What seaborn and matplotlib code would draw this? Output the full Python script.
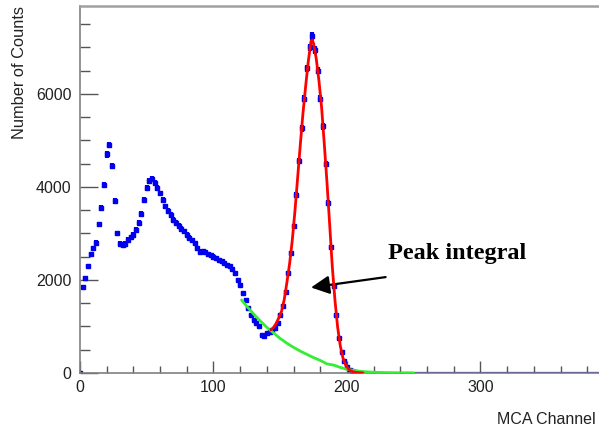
import matplotlib
matplotlib.use("Agg")
import matplotlib.pyplot as plt
import numpy as np
import pandas as pd
import seaborn as sns

sns.set_theme(style="white")
plt.rcParams['font.family'] = ['Liberation Sans', 'DejaVu Sans']

# measured spectrum (every 2nd channel)
channels = list(range(0, 212, 2))
counts = [0, 1850, 2050, 2300, 2550, 2680, 2800, 3200, 3550, 4050,
          4700, 4900, 4450, 3700, 3000, 2780, 2750, 2780, 2860, 2920,
          2970, 3080, 3230, 3420, 3720, 3980, 4120, 4180, 4080, 3980,
          3860, 3720, 3580, 3480, 3400, 3300, 3230, 3170, 3100, 3050,
          2970, 2910, 2850, 2790, 2680, 2610, 2620, 2600, 2550, 2530,
          2500, 2470, 2430, 2400, 2360, 2320, 2290, 2240, 2140, 2000,
          1900, 1720, 1570, 1400, 1250, 1150, 1080, 1000, 820, 800,
          850, 890, 930, 960, 1070, 1250, 1450, 1750, 2150, 2570,
          3150, 3830, 4550, 5260, 5900, 6550, 7000, 7250, 6950, 6500,
          5900, 5300, 4500, 3650, 2700, 1860, 1250, 750, 450, 250,
          135, 70, 35, 15, 8, 4]
tail_channels = [212, 400]
tail_counts = [0, 0]

# gaussian + background fit
fit_channels = [143, 145, 147, 149, 151, 153, 155, 157, 159, 161, 163, 165,
                167, 169, 171, 173, 174, 175, 177, 179, 181, 183, 185, 187,
                189, 191, 193, 195, 197, 199, 201, 203, 205, 208, 212]
fit_counts = [925, 980, 1070, 1190, 1330, 1580, 1950, 2350, 2850, 3480, 4190, 4900,
              5580, 6160, 6700, 7130, 7160, 7080, 6750, 6280, 5700, 4920, 4100, 3200,
              2280, 1560, 980, 580, 320, 170, 90, 45, 22, 8, 2]

# exponential background
bg_channels = [121, 125, 130, 135, 140, 145, 150, 155, 160, 165, 170, 175,
               180, 185, 190, 195, 200, 210, 220, 230, 240, 250]
bg_counts = [1570, 1430, 1270, 1120, 980, 860, 740, 640, 550, 470, 400, 330,
             270, 195, 170, 120, 80, 35, 15, 6, 2, 0]

x_major = [0, 100, 200, 300]

fig = plt.figure(figsize=(5.99, 4.30), dpi=100)
ax = fig.add_axes([80 / 599, 57 / 430, 534 / 599, 367 / 430])

spec = pd.DataFrame({"ch": channels, "n": counts})
ax.errorbar(spec["ch"], spec["n"], yerr=np.sqrt(spec["n"]), fmt="s", ms=2.6,
            color="#0000ee", ecolor="#0000ee", elinewidth=3.0, capsize=0, zorder=2)
ax.plot(tail_channels, tail_counts, color="#0000ee", lw=1.6, zorder=2)

sns.lineplot(x=bg_channels, y=bg_counts, color="#33ee33", lw=2, ax=ax, zorder=3)
sns.lineplot(x=fit_channels, y=fit_counts, color="#ff0000", lw=2, ax=ax, zorder=4)

ax.set_xlim(0, 400)
ax.set_ylim(0, 7890)
ax.set_xticks(x_major)
ax.set_xticks(np.arange(0, 401, 20), minor=True)
ax.set_yticks([0, 2000, 4000, 6000])
ax.set_yticks(np.arange(0, 7890, 500), minor=True)
ax.tick_params(axis="both", which="both", direction="in", colors="#555555",
               labelcolor="#222222", labelsize=11.5, width=1)
ax.tick_params(axis="y", which="major", length=13, pad=6)
ax.tick_params(axis="y", which="minor", length=7)
ax.tick_params(axis="x", which="major", length=9, pad=5)
ax.tick_params(axis="x", which="minor", length=5)
ax.tick_params(left=True, bottom=True, which="both")

for side in ["left", "bottom"]:
    ax.spines[side].set_color("#808080")
    ax.spines[side].set_linewidth(1.2)
ax.spines["top"].set_color("#a0a0a0")
ax.spines["top"].set_linewidth(1.8)
ax.spines["right"].set_visible(False)

ax.set_xlabel("MCA Channel", fontsize=11.5, color="#222222", ha="right")
ax.xaxis.set_label_coords((596 - 80) / 534, -0.105)
ax.set_ylabel("Number of Counts", fontsize=11.8, color="#222222", ha="right")
ax.yaxis.set_label_coords(-0.100, 1.0)

ax.annotate("", xy=(171, 1830), xytext=(231, 2070),
            arrowprops=dict(arrowstyle="-|>", mutation_scale=28, lw=1.6, color="black"))
ax.text(231, 2560, "Peak integral", fontsize=17.5, fontweight="bold",
        family=["Liberation Serif", "DejaVu Serif"], va="center", ha="left", color="black")

fig.savefig("out.png", dpi=100)
